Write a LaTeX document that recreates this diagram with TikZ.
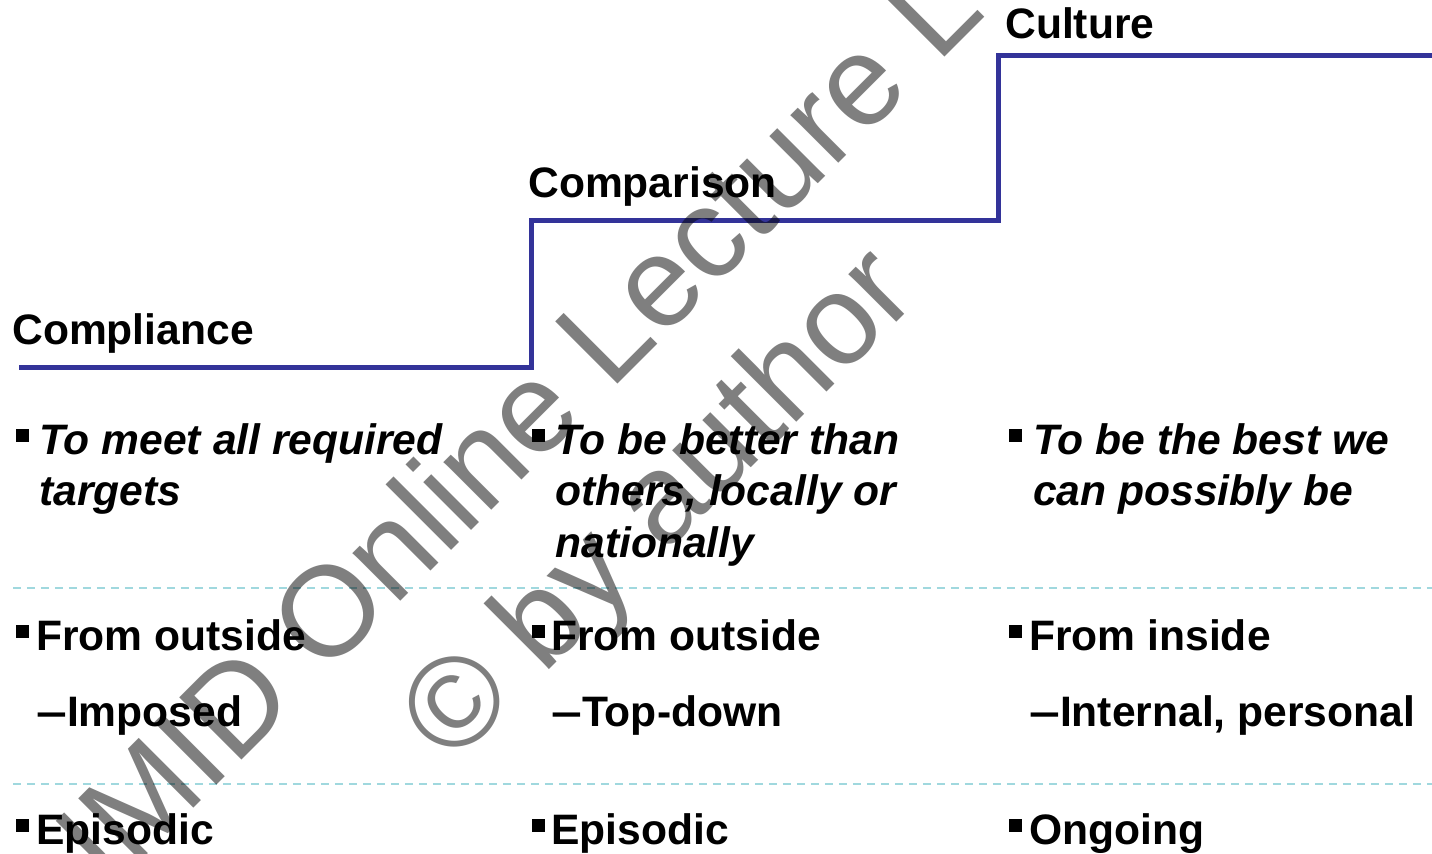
\documentclass[tikz,border=0pt]{standalone}
\usepackage{fontspec}
\setmainfont{Liberation Sans}
\usetikzlibrary{positioning}

\definecolor{stepblue}{RGB}{51,51,153}
\definecolor{rulecyan}{RGB}{160,216,222}

\begin{document}
\begin{tikzpicture}[
  heading/.style={anchor=base west, inner sep=0pt, font=\fontsize{30.3}{36}\selectfont\bfseries},
  entry/.style={anchor=base west, inner sep=0pt, align=left, font=\fontsize{30.3}{36.3}\selectfont\bfseries},
  goal/.style={entry, font=\fontsize{30.3}{36.3}\selectfont\bfseries\itshape},
  bulletbox/.style={rectangle, fill=black, inner sep=0pt, minimum size=0.325cm},
  stair/.style={draw=stepblue, line width=0.125cm},
  divider/.style={draw=rulecyan, line width=0.05cm, dash pattern=on 0.2cm off 0.15cm},
  stamp/.style={anchor=base west, inner sep=0pt, rotate=45, text=black, text opacity=0.5, font=\fontsize{91}{105}\selectfont}]

\useasboundingbox (0,0) rectangle (35.8,21.325);

% the three steps
\coordinate (s0) at (0.475,12.125);
\coordinate (s1) at (13.275,12.125);
\coordinate (s2) at (13.275,15.8);
\coordinate (s3) at (24.95,15.8);
\coordinate (s4) at (24.95,19.925);
\coordinate (s5) at (35.8,19.925);
\draw[stair] (s0) -- (s1) -- (s2) -- (s3) -- (s4) -- (s5);

\node[heading] (compliance) at (0.3,12.7) {Compliance};
\node[heading] (comparison) at (13.2,16.375) {Comparison};
\node[heading] (culture) at (25.125,20.35) {Culture};

% row separators
\coordinate (d1a) at (0.325,6.625);
\coordinate (d1b) at (35.8,6.625);
\coordinate (d2a) at (0.325,1.725);
\coordinate (d2b) at (35.8,1.725);
\draw[divider] (d1a) -- (d1b);
\draw[divider] (d2a) -- (d2b);

% aims (nodes sit on their last line)
\node[bulletbox] (b11) at (0.5625,10.425) {};
\node[bulletbox] (b12) at (13.46,10.425) {};
\node[bulletbox] (b13) at (25.39,10.425) {};
\node[goal] (aim1) at (0.98,8.675) {To meet all required\\targets};
\node[goal] (aim2) at (13.875,7.4) {To be better than\\others, locally or\\nationally};
\node[goal] (aim3) at (25.825,8.675) {To be the best we\\can possibly be};

% drivers
\node[bulletbox] (b21) at (0.5625,5.55) {};
\node[bulletbox] (b22) at (13.46,5.55) {};
\node[bulletbox] (b23) at (25.39,5.55) {};
\node[entry] (src1) at (0.9,5.075) {From outside};
\node[entry] (src2) at (13.775,5.075) {From outside};
\node[entry] (src3) at (25.725,5.075) {From inside};
\node[entry] (sub1) at (0.9,3.175) {\scalebox{1.3}[1]{–}Imposed};
\node[entry] (sub2) at (13.775,3.175) {\scalebox{1.3}[1]{–}Top-down};
\node[entry] (sub3) at (25.725,3.175) {\scalebox{1.3}[1]{–}Internal, personal};

% timing
\node[bulletbox] (b31) at (0.5625,0.7) {};
\node[bulletbox] (b32) at (13.46,0.7) {};
\node[bulletbox] (b33) at (25.39,0.7) {};
\node[entry] (time1) at (0.9,0.225) {Episodic};
\node[entry] (time2) at (13.775,0.225) {Episodic};
\node[entry] (time3) at (25.725,0.225) {Ongoing};

% watermark
\node[stamp] (mark1) at (1.7,-2.025) {UMID Online Lecture L};
\node[stamp] (mark2) at (11.3,2.15) {© by author};

\end{tikzpicture}
\end{document}
